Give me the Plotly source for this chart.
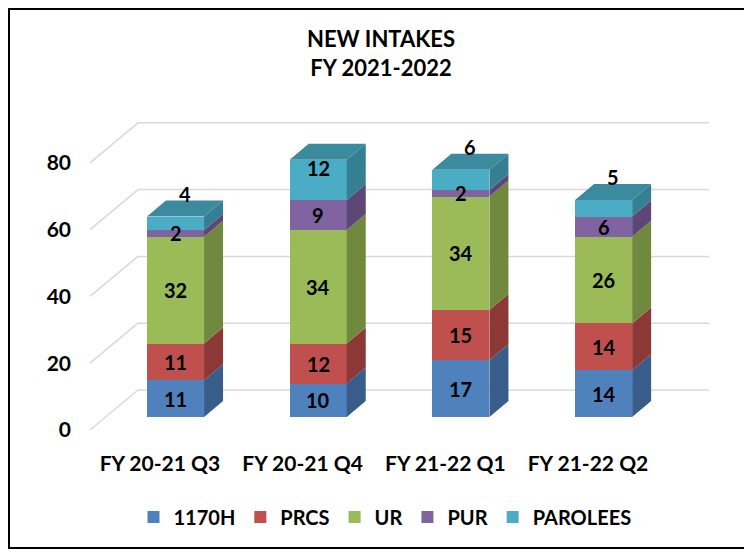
import plotly.graph_objects as go

# ---------------- data ----------------
categories = ["FY 20-21 Q3", "FY 20-21 Q4", "FY 21-22 Q1", "FY 21-22 Q2"]
series_names = ["1170H", "PRCS", "UR", "PUR", "PAROLEES"]
v_1170h = [11, 10, 17, 14]
v_prcs = [11, 12, 15, 14]
v_ur = [32, 34, 34, 26]
v_pur = [2, 9, 2, 6]
v_parolees = [4, 12, 6, 5]
y_ticks = [0, 20, 40, 60, 80]
title_lines = ["NEW INTAKES", "FY 2021-2022"]

series_values = [v_1170h, v_prcs, v_ur, v_pur, v_parolees]

# ---------------- styles ----------------
front_colors = ["#4F81BD", "#C0504D", "#9BBB59", "#8064A2", "#4BACC6"]
side_colors = ["#385D8A", "#8C3836", "#71893F", "#5C4776", "#357F92"]
top_color = "#3C8A9D"
grid_color = "#D9D9D9"
FONT = "Lato"

# ---------------- geometry (pixel layout -> data units) ----------------
W, H = 752, 552
OFF = 8  # page body margin offset of the html page
PL, PR, PT, PB = 72, 720, 100, 449
PX_CAT, PX_VAL = 142.7, 3.34
X0_PX, Y0_PX = 175.5, 417


def fx(px):
    return (px - OFF) / W


def fy(py):
    return 1 - (py - OFF) / H


def dxp(px):
    return px / PX_CAT


def dyp(px):
    return px / PX_VAL


BAR_W = 0.40
BAR_DX, BAR_DY = dxp(19), dyp(16)
FLOOR_DX, FLOOR_DY = dxp(-15.6), dyp(-13)
WALL_DX, WALL_DY = dxp(32.4), dyp(27)
GRID_X0 = dxp(90 - X0_PX)
GRID_X1 = dxp(709 - X0_PX)

x_range = [dxp(PL - X0_PX), dxp(PR - X0_PX)]
y_range = [-dyp(PB - Y0_PX), dyp(Y0_PX - PT)]

xs = list(range(len(categories)))

fig = go.Figure()

# front faces (stacked bars)
for name, vals, col in zip(series_names, series_values, front_colors):
    fig.add_trace(go.Bar(
        x=xs, y=vals, name=name, width=BAR_W,
        marker=dict(color=col, line=dict(width=0)),
        hoverinfo="skip",
    ))

# side faces
bases = [0] * len(categories)
stack_bottoms = []
for vals, scol in zip(series_values, side_colors):
    px_, py_ = [], []
    bottoms = []
    for i, v in enumerate(vals):
        b = bases[i]
        t = b + v
        xr = i + BAR_W / 2
        px_ += [xr, xr + BAR_DX, xr + BAR_DX, xr, xr, None]
        py_ += [b, b + BAR_DY, t + BAR_DY, t, b, None]
        bottoms.append(b)
        bases[i] = t
    stack_bottoms.append(bottoms)
    fig.add_trace(go.Scatter(
        x=px_, y=py_, mode="lines", fill="toself", fillcolor=scol,
        line=dict(width=0, color=scol), showlegend=False, hoverinfo="skip",
    ))

totals = bases[:]

# top faces
tx, ty = [], []
for i, T in enumerate(totals):
    xl, xr = i - BAR_W / 2, i + BAR_W / 2
    tx += [xl, xr, xr + BAR_DX, xl + BAR_DX, xl, None]
    ty += [T, T, T + BAR_DY, T + BAR_DY, T, None]
fig.add_trace(go.Scatter(
    x=tx, y=ty, mode="lines", fill="toself", fillcolor=top_color,
    line=dict(width=0, color=top_color), showlegend=False, hoverinfo="skip",
))

# gridlines (floor diagonal + back wall)
shapes = []
for t in y_ticks:
    xa, ya = GRID_X0, t + FLOOR_DY
    xb, yb = GRID_X0 + WALL_DX - FLOOR_DX, t + WALL_DY
    shapes.append(dict(type="line", xref="x", yref="y", x0=xa, y0=ya, x1=xb, y1=yb,
                       line=dict(color=grid_color, width=1.5), layer="below"))
    shapes.append(dict(type="line", xref="x", yref="y", x0=xb, y0=yb, x1=GRID_X1, y1=yb,
                       line=dict(color=grid_color, width=1.5), layer="below"))

# outer border
shapes.append(dict(type="rect", xref="paper", yref="paper",
                   x0=fx(OFF + 1), x1=fx(W + 20), y0=fy(548), y1=fy(OFF + 1),
                   line=dict(color="black", width=2), layer="above"))

# data labels
annotations = []
label_font = dict(family=FONT, size=20, color="black", weight="bold")
n_series = len(series_values)
for s, vals in enumerate(series_values):
    for i, v in enumerate(vals):
        b = stack_bottoms[s][i]
        if s == n_series - 1:
            T = totals[i]
            if v >= 10:
                annotations.append(dict(x=i, y=T, xref="x", yref="y", text=str(v),
                                        showarrow=False, font=label_font,
                                        yanchor="middle", yshift=-8))
            else:
                annotations.append(dict(x=i + BAR_DX / 2, y=T + BAR_DY, xref="x", yref="y",
                                        text=str(v), showarrow=False, font=label_font,
                                        yanchor="middle", yshift=7))
        else:
            annotations.append(dict(x=i, y=b + v / 2, xref="x", yref="y", text=str(v),
                                    showarrow=False, font=label_font, yanchor="middle"))

fig.update_layout(
    width=W, height=H, autosize=False,
    margin=dict(l=0, r=0, t=0, b=0),
    paper_bgcolor="white", plot_bgcolor="rgba(0,0,0,0)",
    barmode="stack", bargap=0,
    font=dict(family=FONT, size=21, color="black", weight="bold"),
    title=dict(text="<br>".join(title_lines), x=fx(381), xanchor="center",
               y=fy(47), yanchor="middle",
               font=dict(family=FONT, size=22, color="black", weight="bold")),
    xaxis=dict(domain=[fx(PL), fx(PR)], range=x_range, showgrid=False, zeroline=False,
               showline=False, tickvals=[i + FLOOR_DX for i in xs], ticktext=categories,
               ticks="", tickfont=dict(family=FONT, size=21, color="black", weight="bold"),
               fixedrange=True),
    yaxis=dict(domain=[fy(PB), fy(PT)], range=y_range, showgrid=False, zeroline=False,
               showline=False, tickvals=[t + FLOOR_DY for t in y_ticks],
               ticktext=[str(t) for t in y_ticks], ticks="",
               tickfont=dict(family=FONT, size=21, color="black", weight="bold"),
               fixedrange=True),
    legend=dict(orientation="h", x=fx(385), xanchor="center", y=fy(517), yanchor="middle",
                font=dict(family=FONT, size=20, color="black", weight="bold"),
                bgcolor="rgba(0,0,0,0)", traceorder="normal"),
    shapes=shapes,
    annotations=annotations,
    showlegend=True,
)

fig.write_html("out.html")
